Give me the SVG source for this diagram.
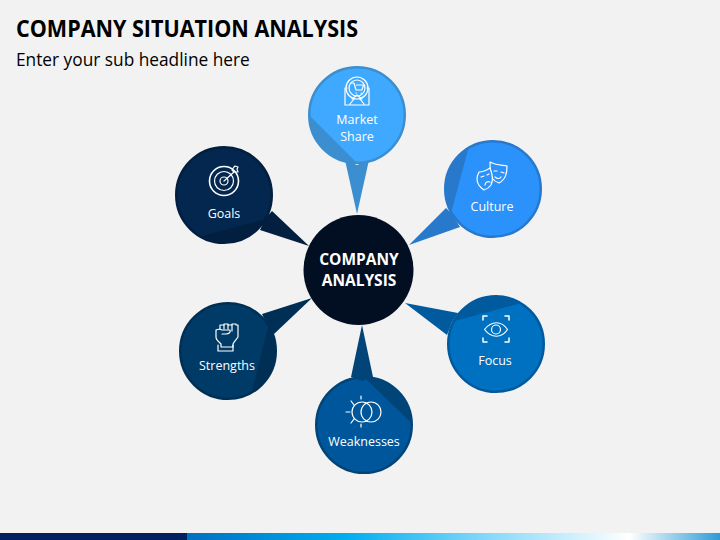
<svg xmlns="http://www.w3.org/2000/svg" width="720" height="540" viewBox="0 0 720 540">
<defs>
<linearGradient id="bar" x1="0" x2="1" y1="0" y2="0">
<stop offset="0" stop-color="#0070C0"/><stop offset="0.3" stop-color="#00AEEF"/><stop offset="0.55" stop-color="#7FD6F9"/><stop offset="0.83" stop-color="#FFFFFF"/><stop offset="1" stop-color="#2E9BD6"/>
</linearGradient>
<clipPath id="c1"><circle cx="357" cy="115" r="48"/></clipPath>
<clipPath id="c2"><circle cx="493" cy="189" r="48"/></clipPath>
<clipPath id="c3"><circle cx="224" cy="195" r="48"/></clipPath>
<clipPath id="c4"><circle cx="496" cy="344" r="48"/></clipPath>
<clipPath id="c5"><circle cx="228" cy="351" r="48"/></clipPath>
<clipPath id="c6"><circle cx="364" cy="425" r="48"/></clipPath>
</defs>
<style>
text{font-family:"Open Sans","Noto Sans","Liberation Sans",sans-serif}
.lbl{fill:#fff;font-size:12.5px;text-anchor:middle}
.ic{fill:none;stroke:#fff;stroke-width:1.2;stroke-linecap:round;stroke-linejoin:round}
.ring{stroke-width:2.5}
</style>
<rect width="720" height="540" fill="#F2F2F2"/>
<text x="16" y="37" font-size="23.5" font-weight="700" fill="#000" textLength="342" lengthAdjust="spacingAndGlyphs">COMPANY SITUATION ANALYSIS</text>
<text x="16" y="66" font-size="17.3" fill="#000">Enter your sub headline here</text>

<g id="node-market-share">
<circle class="ring" cx="357" cy="115" r="47.750" fill="#3FA9FF" stroke="#3B8FD0"/>
<polygon points="300,106 366,172 300,172" fill="#3B8FD0" clip-path="url(#c1)"/>
<g class="ic" stroke-width="1">
<circle cx="357" cy="88" r="11"/><circle cx="357" cy="88" r="8"/>
<path d="M351,83h3l2,7h6l1.500,-5h-7M356,93h.5M361,93h.5"/>
<path d="M347,88h-2v17h24v-17h-2M350,104l4,-5M364,104l-4,-5M352,99l5,-4l5,4"/>
</g>
<text class="lbl" x="357" y="124">Market</text>
<text class="lbl" x="357" y="141">Share</text>
</g>

<g id="node-culture">
<circle class="ring" cx="493" cy="189" r="47.750" fill="#2A92FA" stroke="#2878CC"/>
<polygon points="473,131 447,228 430,228 430,131" fill="#2878CC" clip-path="url(#c2)"/>
<g class="ic" transform="translate(0,-4)">
<path d="M490,166c5,3 11,3 17,4c0,7 -1,13 -8,17c-3,-1 -5,-2 -7,-5c-2,-5 -2,-11 -2,-16Z"/>
<path d="M479,176c4,0 8,-2 11,-4c2,5 4,11 1,17c-2,3 -4,4 -7,5c-3,-2 -7,-5 -7,-11c0,-3 1,-5 2,-7Z" fill="#2A92FA"/>
<path d="M494,175l3,0M501,176l3,1M495,181c2,2 5,2 6,0M481,181l3,-1M487,179l2,-1M485,189c0,-3 3,-4 5,-3"/>
</g>
<text class="lbl" x="492" y="211">Culture</text>
</g>

<g id="node-goals">
<circle class="ring" cx="224" cy="195" r="47.750" fill="#03274F" stroke="#021F3F"/>
<polygon points="285,214 180,242 180,260 285,260" fill="#021F3F" clip-path="url(#c3)"/>
<g class="ic">
<circle cx="224" cy="181" r="14.500" stroke-width="1.600"/><circle cx="224" cy="181" r="9.500"/><circle cx="224" cy="181" r="4"/>
<path d="M224,181L234,172M232,170l2,2l4,0l-1,-3l1,-2l-3,-1l-1,1z"/>
</g>
<text class="lbl" x="224" y="218">Goals</text>
</g>

<g id="node-focus">
<circle class="ring" cx="496" cy="344" r="47.750" fill="#0070C0" stroke="#015A9E"/>
<polygon points="540,298 440,325 440,280 540,280" fill="#015A9E" clip-path="url(#c4)"/>
<g class="ic">
<path d="M483,320v-4h4M505,316h4v4M483,338v4h4M505,342h4v-4" stroke-width="1.500"/>
<path d="M484.500,329.500c7,-9 17,-9 23,0c-6,9 -16,9 -23,0Z"/>
<circle cx="496" cy="329.500" r="4.500"/>
</g>
<text class="lbl" x="495" y="365">Focus</text>
</g>

<g id="node-strengths">
<circle class="ring" cx="228" cy="351" r="47.750" fill="#003B68" stroke="#002F55"/>
<polygon points="275,300 245,418 290,418 290,300" fill="#002F55" clip-path="url(#c5)"/>
<g class="ic" stroke-width="1" transform="translate(0,-7)">
<path d="M220,336v-4h4v-1h4v1h4v-1h4v1h2v12c-2,3 -4,5 -5,7v3h-12v-3c-2,-2 -5,-4 -5,-7v-7c2,-1 4,-1 6,0c4,0 6,0 8,0c1,2 -1,4 -4,4h-4"/>
<path d="M218,352v6h15v-6M224,332v4M228,332v4M232,332v6"/>
</g>
<text class="lbl" x="227" y="370">Strengths</text>
</g>

<g id="node-weaknesses">
<circle class="ring" cx="364" cy="425" r="47.750" fill="#00569B" stroke="#004478"/>
<polygon points="340,354 430,441 430,354" fill="#004478" clip-path="url(#c6)"/>
<g class="ic">
<circle cx="362" cy="412" r="10"/><circle cx="371" cy="412" r="10"/>
<path d="M346,412h4M351,401l3,4M361,396v3M361,424v3M351,423l3,-4"/>
</g>
<text class="lbl" x="364" y="446">Weaknesses</text>
</g>

<g id="connectors">
<polygon points="345,160 357,165 369,160 357,214" fill="#3B8FD0"/>
<polygon points="446,208 452,214 460,227 409,245" fill="#2878CC"/>
<polygon points="272,211 265,219 260,230 309,246" fill="#021F3F"/>
<polygon points="458,313 452,322 447,335 405,303" fill="#015A9E"/>
<polygon points="262,314 268,327 274,334 312,298" fill="#002F55"/>
<polygon points="351,377 362,381 373,377 362,325" fill="#004478"/>
</g>

<g id="node-center">
<circle cx="358.500" cy="270" r="55" fill="#020F22"/>
<text x="359" y="265" font-size="15.500" font-weight="700" fill="#fff" text-anchor="middle">COMPANY</text>
<text x="359" y="286" font-size="15.500" font-weight="700" fill="#fff" text-anchor="middle">ANALYSIS</text>
</g>

<rect x="0" y="533" width="187" height="7" fill="#002060"/>
<rect x="187" y="533" width="533" height="7" fill="url(#bar)"/>
</svg>
